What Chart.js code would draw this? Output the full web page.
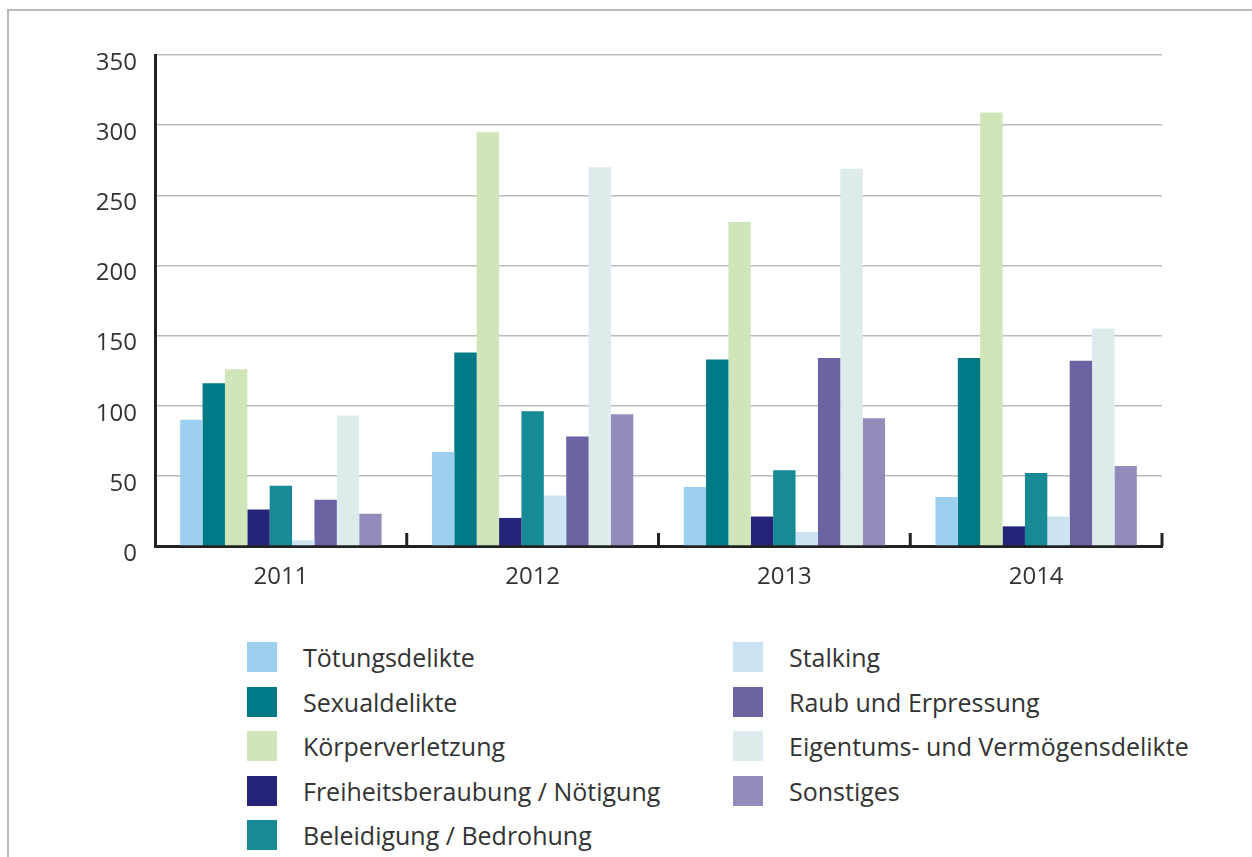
<!DOCTYPE html>
<html>
<head>
<meta charset="utf-8">
<script src="https://cdn.jsdelivr.net/npm/chart.js@4"></script>
<style>
  body { margin: 0; background: #fff; font-family: "Open Sans", sans-serif; }
  #wrap { position: relative; width: 1252px; height: 857px; overflow: hidden; }
  #frame { position: absolute; left: 7px; top: 9px; width: 1300px; height: 900px;
           border-left: 2px solid #b9b9b9; border-top: 2px solid #b9b9b9; }
  #chart { position: absolute; left: 0; top: 0; }
  .legend-item { position: absolute; height: 30px; display: flex; align-items: center;
                 font-size: 25px; color: #333; white-space: nowrap; }
  .legend-item .box { width: 30px; height: 30px; margin-right: 26px; flex: none; }
</style>
</head>
<body>
<div id="wrap">
  <div id="frame"></div>
  <canvas id="chart" width="1252" height="620"></canvas>
  <div id="legend"></div>
</div>
<script>
// Data
const years = ['2011', '2012', '2013', '2014'];
const categories = [
    'Tötungsdelikte',
    'Sexualdelikte',
    'Körperverletzung',
    'Freiheitsberaubung / Nötigung',
    'Beleidigung / Bedrohung',
    'Stalking',
    'Raub und Erpressung',
    'Eigentums- und Vermögensdelikte',
    'Sonstiges'
];
const toetung = [90, 67, 42, 35];
const sexual = [116, 138, 133, 134];
const koerper = [126, 295, 231, 309];
const freiheit = [26, 20, 21, 14];
const beleidigung = [43, 96, 54, 52];
const stalking = [4, 36, 10, 21];
const raub = [33, 78, 134, 132];
const eigentum = [93, 270, 269, 155];
const sonstiges = [23, 94, 91, 57];
const yTicks = [0, 50, 100, 150, 200, 250, 300, 350];

const colors = ['#9dd0ef', '#007a84', '#d0e5b8', '#262478', '#168b95',
                '#cce3f4', '#6a64a2', '#ddebec', '#928cbb'];
const series = [toetung, sexual, koerper, freiheit, beleidigung, stalking, raub, eigentum, sonstiges];

const textColor = '#333';
const fontFamily = '"Open Sans", sans-serif';

// Short tick marks at the category boundaries, pointing up from the x axis
const boundaryTicks = {
    id: 'boundaryTicks',
    afterDatasetsDraw(chart) {
        const x = chart.scales.x;
        const bottom = chart.chartArea.bottom;
        const ctx = chart.ctx;
        ctx.save();
        ctx.strokeStyle = '#222';
        ctx.lineWidth = 3;
        for (let i = 1; i <= years.length; i++) {
            const px = x.getPixelForValue(i - 0.5);
            ctx.beginPath();
            ctx.moveTo(px, bottom);
            ctx.lineTo(px, bottom - 13);
            ctx.stroke();
        }
        ctx.restore();
    }
};

const ctx = document.getElementById('chart').getContext('2d');
const chart = new Chart(ctx, {
    type: 'bar',
    data: {
        labels: years,
        datasets: categories.map((name, i) => ({
            label: name,
            data: series[i],
            backgroundColor: colors[i],
            borderWidth: 0,
            categoryPercentage: 0.8,
            barPercentage: 1.0
        }))
    },
    options: {
        responsive: false,
        animation: false,
        layout: { padding: { left: 0, top: 55, right: 90, bottom: 0 } },
        plugins: {
            legend: { display: false },
            tooltip: { enabled: false }
        },
        scales: {
            x: {
                grid: { display: false, drawTicks: false },
                border: { color: '#222', width: 3 },
                ticks: {
                    color: textColor,
                    padding: 17,
                    font: { family: fontFamily, size: 24 }
                },
                afterFit(scale) { scale.height = 74; }
            },
            y: {
                min: 0,
                max: 350,
                afterBuildTicks(scale) { scale.ticks = yTicks.map(v => ({ value: v })); },
                grid: { color: '#bcbcbc', lineWidth: 1.5, drawTicks: false },
                border: { color: '#222', width: 3 },
                ticks: {
                    color: textColor,
                    padding: 18,
                    labelOffset: 8,
                    font: { family: fontFamily, size: 24 }
                },
                afterFit(scale) { scale.width = 155; }
            }
        }
    },
    plugins: [boundaryTicks]
});

// Legend: two columns, filled top to bottom
const legend = document.getElementById('legend');
chart.data.datasets.forEach((ds, i) => {
    const col = i < 5 ? 0 : 1;
    const row = i < 5 ? i : i - 5;
    const item = document.createElement('div');
    item.className = 'legend-item';
    item.style.left = (col === 0 ? 247 : 733) + 'px';
    item.style.top = (642 + row * 44.5) + 'px';
    item.innerHTML = `<span class="box" style="background:${ds.backgroundColor}"></span>${ds.label}`;
    legend.appendChild(item);
});
</script>
</body>
</html>
